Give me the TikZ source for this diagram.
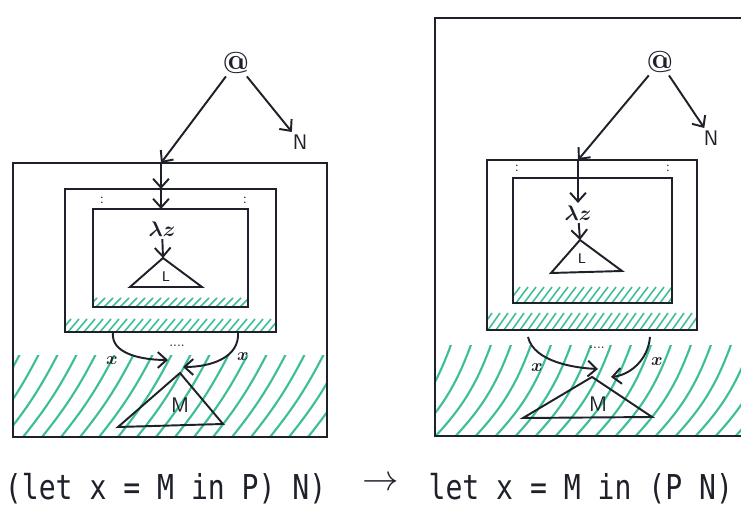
\documentclass[tikz,border=0pt]{standalone}
\usepackage{fontspec}
\usepackage{bm}
\newfontfamily\codefont[FakeStretch=0.82]{DejaVu Sans Mono}
\usetikzlibrary{arrows.meta}
\definecolor{ink}{RGB}{30,32,42}
\definecolor{hatchgreen}{RGB}{60,190,150}

\begin{document}
\begin{tikzpicture}[x=0.02cm, y=-0.02cm, ink, line width=1.1pt,
  box/.style={line width=1.4pt},
  hatch/.style={hatchgreen, line width=1.2pt},
  arr/.style={-{Straight Barb[length=5pt,width=9pt]}},
  lbl/.style={font=\large\sffamily, inner sep=1pt},
  small/.style={font=\footnotesize\sffamily, inner sep=0pt},
  code/.style={font=\codefont\fontsize{19.5}{22}\selectfont, inner sep=0pt}]
  \useasboundingbox[fill=white] (0,0) rectangle (741,509);

  % before: hatching
  \begin{scope}
    \clip (13,356) rectangle (327,437);
    \foreach \i in {-4,...,18}
      \draw[hatch] (\i*19,442) to[bend right=6] ++(60,-92);
  \end{scope}
  \begin{scope}
    \clip (93,297) rectangle (248,307);
    \foreach \i in {0,...,21}
      \draw[hatch, line width=0.9pt] (88+\i*8,307) -- ++(9,-9);
  \end{scope}
  \begin{scope}
    \clip (65,318) rectangle (276,332);
    \foreach \i in {0,...,28}
      \draw[hatch, line width=0.9pt] (60+\i*8,332) -- ++(11,-13);
  \end{scope}

  % before: boxes
  \draw[box] (13,163) rectangle (327,437);
  \draw[box] (65,189) rectangle (276,332);
  \draw[box] (93,209) rectangle (248,307);

  \node[font=\LARGE\bfseries, inner sep=1pt] (at1) at (236,63) {@};
  \node[lbl] (n1) at (300,142) {N};
  \coordinate (top1) at (161,163);
  \coordinate (mid1) at (161,189);
  \coordinate (in1) at (161,209);
  \node[lbl] (lam1) at (162,229) {$\bm{\lambda z}$};
  \coordinate (ltop1) at (163,258);
  \node[small] (ltxt1) at (166,277) {L};
  \node[small] (d1a) at (102,200) {:};
  \node[small] (d1b) at (245,200) {:};
  \coordinate (mbl1) at (113,332);
  \coordinate (mbr1) at (238,332);
  \node[small, font=\tiny\bfseries] (dots1) at (177,346) {....};
  \node[small, font=\normalsize] (x1a) at (112,361) {$\bm{x}$};
  \node[small, font=\normalsize] (x1b) at (243,357) {$\bm{x}$};
  \coordinate (mtop1) at (180,373);
  \node[lbl] (mtxt1) at (180,405) {M};

  \draw[arr] (at1) -- (top1);
  \draw[arr] (at1) -- (n1);
  \draw[arr] (top1) -- (mid1);
  \draw[arr] (mid1) -- (in1);
  \draw[arr] (lam1) -- (ltop1);
  \draw (ltop1) -- (130,287) -- (202,287) -- cycle;
  \draw[arr] (mbl1) .. controls (110,355) and (145,360) .. (168,360);
  \draw[arr] (mbr1) .. controls (240,358) and (210,367) .. (183,367);
  \draw (mtop1) -- (118,427) -- (223,424) -- cycle;

  % after: hatching
  \begin{scope}
    \clip (435,346) rectangle (741,436);
    \foreach \i in {-4,...,17}
      \draw[hatch] (410+\i*20,442) to[bend right=12] ++(62,-100);
  \end{scope}
  \begin{scope}
    \clip (513,287) rectangle (672,303);
    \foreach \i in {0,...,21}
      \draw[hatch, line width=0.9pt] (508+\i*8,303) -- ++(12,-16);
  \end{scope}
  \begin{scope}
    \clip (487,313) rectangle (697,330);
    \foreach \i in {0,...,28}
      \draw[hatch, line width=0.9pt] (480+\i*8,330) -- ++(12,-17);
  \end{scope}

  % after: boxes
  \draw[box] (435,18) rectangle (745,436);
  \draw[box] (487,160) rectangle (697,330);
  \draw[box] (513,178) rectangle (672,303);

  \node[font=\LARGE\bfseries, inner sep=1pt] (at2) at (660,62) {@};
  \node[lbl] (n2) at (711,138) {N};
  \coordinate (top2) at (578,160);
  \node[lbl] (lam2) at (578,213) {$\bm{\lambda z}$};
  \coordinate (ltop2) at (580,240);
  \node[small] (ltxt2) at (582,259) {L};
  \node[small] (d2a) at (517,168) {:};
  \node[small] (d2b) at (668,168) {:};
  \coordinate (mbl2) at (528,337);
  \coordinate (mbr2) at (650,337);
  \node[small, font=\tiny\bfseries] (dots2) at (597,348) {....};
  \node[small, font=\normalsize] (x2a) at (537,368) {$\bm{x}$};
  \node[small, font=\normalsize] (x2b) at (657,362) {$\bm{x}$};
  \coordinate (mtop2) at (592,377);
  \node[lbl] (mtxt2) at (598,404) {M};

  \draw[arr] (at2) -- (top2);
  \draw[arr] (at2) -- (n2);
  \draw[arr] (top2) -- (lam2);
  \draw[arr] (lam2) -- (ltop2);
  \draw (ltop2) -- (551,273) -- (622,271) -- cycle;
  \draw[arr] (mbl2) .. controls (534,362) and (575,368) .. (598,369);
  \draw[arr] (mbr2) .. controls (648,360) and (630,375) .. (611,377);
  \draw (mtop2) -- (523,418) -- (652,417) -- cycle;

  % caption
  \node[code, anchor=base west] (before) at (4,500) {(let x = M in P) N)};
  \node[font=\fontsize{22}{24}\selectfont, inner sep=0pt] (to) at (381,484) {$\rightarrow$};
  \node[code, anchor=base east] (after) at (734,500) {let x = M in (P N)};
\end{tikzpicture}
\end{document}
